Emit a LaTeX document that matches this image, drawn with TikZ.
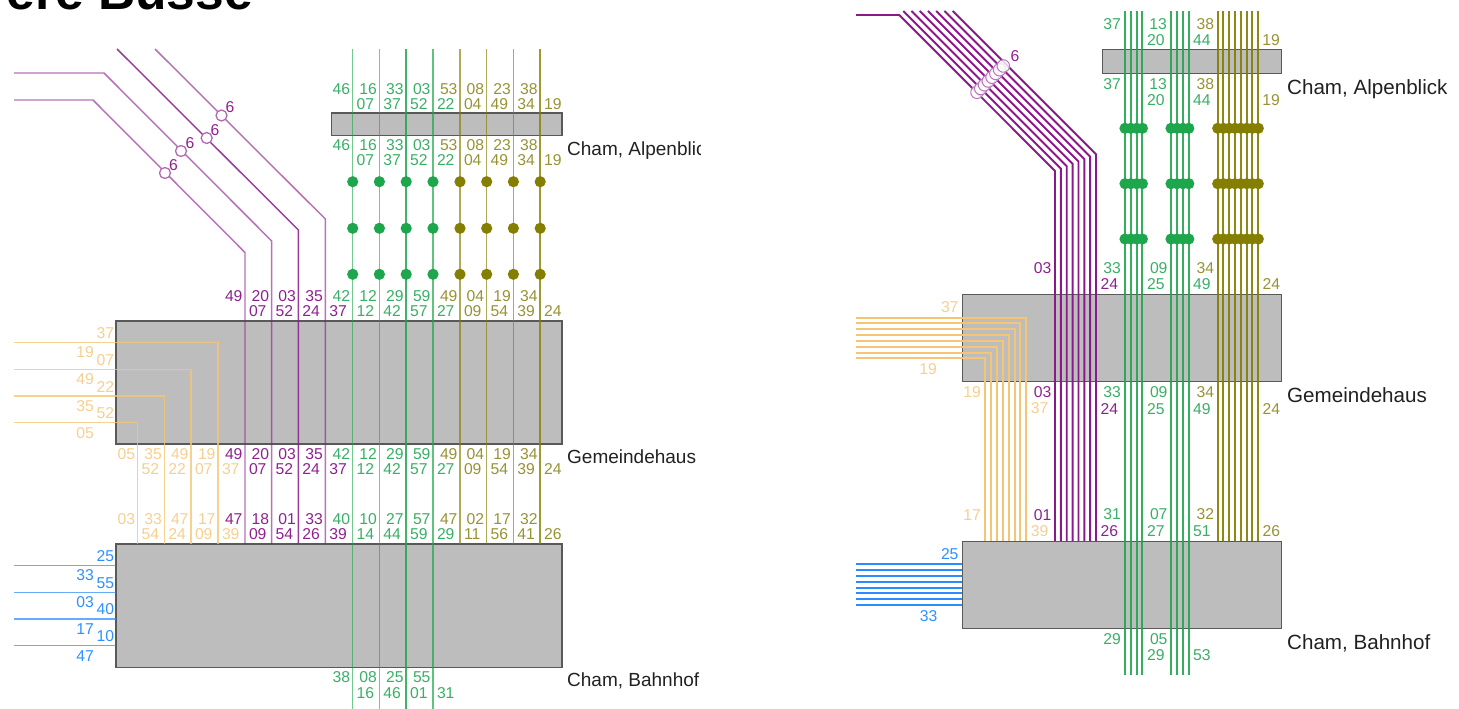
\documentclass[tikz,border=0pt]{standalone}
\usepackage{fontspec}
\setmainfont{Liberation Sans}
\definecolor{cpur}{HTML}{8A1A8A}
\definecolor{cgrn}{HTML}{1DA64C}
\definecolor{coli}{HTML}{847F00}
\definecolor{cora}{HTML}{F5C573}
\definecolor{cblu}{HTML}{2A8CFF}
\definecolor{tpur}{HTML}{8F2090}
\definecolor{tgrn}{HTML}{38AF66}
\definecolor{toli}{HTML}{979233}
\definecolor{tora}{HTML}{F6CF90}
\definecolor{tblu}{HTML}{2F90FF}
\newcount\lblcount
\newcommand\numlab[4]{\global\advance\lblcount by 1
  \node[numtext,text=#4] (n\the\lblcount) at (#1,#2) {#3};}
\newcommand\numrow[4]{\foreach \xx/\tx in {#4}{\numlab{\xx+#1}{#2}{\tx}{#3}}}
% left panel: two-row label block
\newcommand\rowsAlp[2]{%
  \numrow{-20}{#1}{tgrn}{352.7/46,379.4/16,406.2/33,433/03}
  \numrow{-20}{#1}{toli}{460/53,486.7/08,513.4/23,540.2/38}
  \numrow{4}{#2}{tgrn}{352.7/07,379.4/37,406.2/52,433/22}
  \numrow{4}{#2}{toli}{460/04,486.7/49,513.4/34,540.2/19}}
\tikzset{
  numtext/.style={anchor=west,inner sep=0pt,outer sep=0pt,font=\fontsize{15.7}{16}\selectfont},
  numcenter/.style={numtext,anchor=center},
  stationbox/.style={draw=black!65,fill=black!26,line width=1.2pt,anchor=north west,inner sep=0pt,outer sep=0pt},
  stationbig/.style={anchor=base west,inner sep=0pt,text=black!87,font=\fontsize{20.6}{22}\selectfont},
  stationsmall/.style={anchor=base west,inner sep=0pt,text=black!87,font=\fontsize{19}{20}\selectfont},
  thin line/.style={line width=1.45pt,line join=miter},
  thick line/.style={line width=1.9pt,line join=miter},
  faint/.style={opacity=.62},
  ring/.style={circle,draw=cpur!65,fill=white,line width=1.3pt,minimum size=11pt,inner sep=0pt},
  smallring/.style={circle,draw=cpur!60,fill=white,fill opacity=.8,line width=1pt,minimum size=12.5pt,inner sep=0pt},
  stopdot/.style={circle,inner sep=0pt,minimum size=11.2pt}
}
\begin{document}
\begin{tikzpicture}[x=1pt,y=-1pt]
\useasboundingbox (0,0) rectangle (1459,709);
\node[anchor=base west,inner sep=0pt,font=\bfseries\fontsize{51.5}{54}\selectfont] (title) at (6.5,10) {ere Busse};

%% ---------- LEFT PANEL ----------
\node[stationbox,minimum width=446pt,minimum height=123pt] (lg) at (116,321) {};
\node[stationbox,minimum width=230.5pt,minimum height=22.5pt] (la) at (331.5,113) {};
\node[stationbox,minimum width=446pt,minimum height=123.5pt] (lb) at (116,544) {};

% purple
\draw[cpur,thin line,faint] (14,100) -- (93,100) -- (245,252.5) -- (245,544);
\draw[cpur,thin line,faint] (14,73) -- (104,73) -- (271.7,241) -- (271.7,544);
\draw[cpur,thin line,opacity=.85] (117,49) -- (298.4,230) -- (298.4,544);
\draw[cpur,thin line,faint] (155,49) -- (325.3,219) -- (325.3,544);
% green, olive
\foreach \xx/\op in {352.7/.62,379.4/.62,406.2/.85,433/.7}{\draw[cgrn,thin line,opacity=\op] (\xx,49) -- (\xx,709);}
\foreach \xx/\op in {460/.65,486.7/.65,513.4/.65,540.2/.8}{\draw[coli,thin line,opacity=\op] (\xx,49) -- (\xx,544);}
% orange, blue
\foreach \yy/\xx in {342.7/218,369.3/191,396/164.3,422.7/137.7}{\draw[cora,thin line,opacity=.8] (14,\yy) -- (\xx,\yy) -- (\xx,544);}
\foreach \yy in {565.3,592.3,619,645.7}{\draw[cblu,thin line,opacity=.72] (14,\yy) -- (116,\yy);}
% stop dots
\foreach \yy in {181.7,228.3,274.3}{
  \foreach \xx in {352.7,379.4,406.2,433}{\node[stopdot,fill=cgrn] (ld\xx-\yy) at (\xx,\yy) {};}
  \foreach \xx in {460,486.7,513.4,540.2}{\node[stopdot,fill=coli] (ld\xx-\yy) at (\xx,\yy) {};}
}
% rings
\foreach \xx/\yy/\lx/\ly/\k in {165/173/173.5/165/a,181/151/190/143/b,206.7/138/215/130/c,221.5/115.5/230/107/d}{
  \node[ring] (lr\k) at (\xx,\yy) {};
  \node[numcenter,text=tpur] (lrt\k) at (\lx,\ly) {6};
}
% labels around Alpenblick
\rowsAlp{89.3}{104}
\rowsAlp{145.3}{160}
% above/below Gemeindehaus
\foreach \ya/\yb in {296/311.3,454/469.3}{
  \numrow{-20}{\ya}{tpur}{245/49,271.7/20,298.4/03,325.3/35}
  \numrow{-20}{\ya}{tgrn}{352.7/42,379.4/12,406.2/29,433/59}
  \numrow{-20}{\ya}{toli}{460/49,486.7/04,513.4/19,540.2/34}
  \numrow{4}{\yb}{tpur}{245/07,271.7/52,298.4/24,325.3/37}
  \numrow{4}{\yb}{tgrn}{352.7/12,379.4/42,406.2/57,433/27}
  \numrow{4}{\yb}{toli}{460/09,486.7/54,513.4/39,540.2/24}
}
\numrow{-20}{454}{tora}{137.7/05,164.3/35,191/49,218/19}
\numrow{4}{469.3}{tora}{137.7/52,164.3/22,191/07,218/37}
% above Bahnhof
\numrow{-20}{519}{tora}{137.7/03,164.3/33,191/47,218/17}
\numrow{-20}{519}{tpur}{245/47,271.7/18,298.4/01,325.3/33}
\numrow{-20}{519}{tgrn}{352.7/40,379.4/10,406.2/27,433/57}
\numrow{-20}{519}{toli}{460/47,486.7/02,513.4/17,540.2/32}
\numrow{4}{534.3}{tora}{137.7/54,164.3/24,191/09,218/39}
\numrow{4}{534.3}{tpur}{245/09,271.7/54,298.4/26,325.3/39}
\numrow{4}{534.3}{tgrn}{352.7/14,379.4/44,406.2/59,433/29}
\numrow{4}{534.3}{toli}{460/11,486.7/56,513.4/41,540.2/26}
% below Bahnhof
\numrow{-20}{676.7}{tgrn}{352.7/38,379.4/08,406.2/25,433/55}
\numrow{4}{692.7}{tgrn}{352.7/16,379.4/46,406.2/01,433/31}
% side labels
\numrow{0}{332.7}{tora}{96.7/37}
\numrow{0}{359.7}{tora}{96.7/07}
\numrow{0}{386.7}{tora}{96.7/22}
\numrow{0}{413.3}{tora}{96.7/52}
\numrow{0}{352.3}{tora}{76.3/19}
\numrow{0}{379}{tora}{76.3/49}
\numrow{0}{406}{tora}{76.3/35}
\numrow{0}{433}{tora}{76.3/05}
\numrow{0}{556}{tblu}{96.7/25}
\numrow{0}{582.7}{tblu}{96.7/55}
\numrow{0}{609.3}{tblu}{96.7/40}
\numrow{0}{636.3}{tblu}{96.7/10}
\numrow{0}{575.3}{tblu}{76.3/33}
\numrow{0}{602.3}{tblu}{76.3/03}
\numrow{0}{629}{tblu}{76.3/17}
\numrow{0}{655.7}{tblu}{76.3/47}
% station names, cut at the panel edge
\begin{scope}
\clip (0,0) rectangle (700,709);
\node[stationsmall] (lna) at (567,155) {Cham, Alpenblick};
\node[stationsmall] (lng) at (567,463.5) {Gemeindehaus};
\node[stationsmall] (lnb) at (567,686.8) {Cham, Bahnhof};
\end{scope}

%% ---------- RIGHT PANEL ----------
\node[stationbox,line width=1pt,minimum width=179.7pt,minimum height=23.3pt] (ra) at (1102,50) {};
\node[stationbox,line width=1pt,minimum width=319.4pt,minimum height=87.3pt] (rg) at (962.3,294) {};
\node[stationbox,line width=1pt,minimum width=319.4pt,minimum height=87.3pt] (rb) at (962.3,541) {};

% purple bundle
\draw[cpur,thick line] (856,15) -- (899.3,15) -- (1055,171) -- (1055,541);
\foreach \i in {1,...,7}{
  \pgfmathsetmacro\bx{1055+5.86*\i}
  \pgfmathsetmacro\by{171-2.38*\i}
  \pgfmathsetmacro\tx{\bx-(\by-11)}
  \draw[cpur,thick line] (\tx,11) -- (\bx,\by) -- (\bx,541);
}
% green and olive
\foreach \xx in {1125,1130.8,1136.7,1142.4,1171,1177,1183,1188.8}{\draw[cgrn,thick line,opacity=.9] (\xx,11) -- (\xx,675.3);}
\foreach \xx in {1217.7,1223.4,1229.2,1235,1240.8,1246.7,1252.4,1258.3}{\draw[coli,thick line,opacity=.92] (\xx,11) -- (\xx,541);}
% orange, blue
\foreach \yy/\xx in {317.7/1026,323.4/1020.3,329.3/1014.6,335/1008.7,341/1003,346.7/997,352.7/991,358.3/985.3}{
  \draw[cora,thick line] (856,\yy) -- (\xx,\yy) -- (\xx,541);}
\foreach \yy in {564.3,570,576,581.7,587.7,593.3,599,605}{\draw[cblu,thick line] (856,\yy) -- (962.3,\yy);}
% stop dots
\foreach \yy in {128.3,183.7,239}{
  \foreach \xx in {1125,1130.8,1136.7,1142.4,1171,1177,1183,1188.8}{\node[stopdot,fill=cgrn] (rd\xx-\yy) at (\xx,\yy) {};}
  \foreach \xx in {1217.7,1223.4,1229.2,1235,1240.8,1246.7,1252.4,1258.3}{\node[stopdot,fill=coli] (rd\xx-\yy) at (\xx,\yy) {};}
}
% rings
\foreach \i in {0,...,7}{
  \pgfmathsetmacro\cx{977+3.76*\i}
  \pgfmathsetmacro\cy{92.3-3.76*\i}
  \node[smallring] (rr\i) at (\cx,\cy) {};
}
\node[numcenter,text=tpur] (rrt) at (1015,56) {6};
% right labels
\foreach \ya/\yb in {24/40,84/100.3}{
  \numlab{1103.3}{\ya}{37}{tgrn}
  \numlab{1149.4}{\ya}{13}{tgrn}
  \numlab{1147.2}{\yb}{20}{tgrn}
  \numlab{1196.6}{\ya}{38}{toli}
  \numlab{1193.2}{\yb}{44}{tgrn}
  \numlab{1262.3}{\yb}{19}{toli}
}
\numlab{1033.8}{268}{03}{tpur}
\numlab{1033.8}{392}{03}{tpur}
\numlab{1030.8}{408.5}{37}{tora}
\numlab{963.3}{391.7}{19}{tora}
\numlab{963.3}{515}{17}{tora}
\numlab{1030.8}{530.7}{39}{tora}
\numlab{1033.8}{515}{01}{tpur}
\numlab{941}{307.3}{37}{tora}
\numlab{919.3}{369}{19}{tora}
\numlab{941}{554.3}{25}{tblu}
\numlab{919.8}{615.7}{33}{tblu}
\foreach \ya/\yb/\a/\b/\c/\d/\e/\f/\g in {268/284.3/33/24/09/25/34/49/24,392.3/408.7/33/24/09/25/34/49/24,514.5/531/31/26/07/27/32/51/26}{
  \numlab{1103.3}{\ya}{\a}{tgrn}
  \numlab{1100.6}{\yb}{\b}{tpur}
  \numlab{1150}{\ya}{\c}{tgrn}
  \numlab{1147.2}{\yb}{\d}{tgrn}
  \numlab{1196.6}{\ya}{\e}{toli}
  \numlab{1193.2}{\yb}{\f}{tgrn}
  \numlab{1262.6}{\yb}{\g}{toli}
}
\numlab{1103.3}{638.7}{29}{tgrn}
\numlab{1150}{638.7}{05}{tgrn}
\numlab{1147.2}{655.3}{29}{tgrn}
\numlab{1193.2}{655.3}{53}{tgrn}
% station names
\node[stationbig] (rna) at (1287,94.7) {Cham, Alpenblick};
\node[stationbig] (rng) at (1287,402.4) {Gemeindehaus};
\node[stationbig] (rnb) at (1287,649) {Cham, Bahnhof};
\end{tikzpicture}
\end{document}
